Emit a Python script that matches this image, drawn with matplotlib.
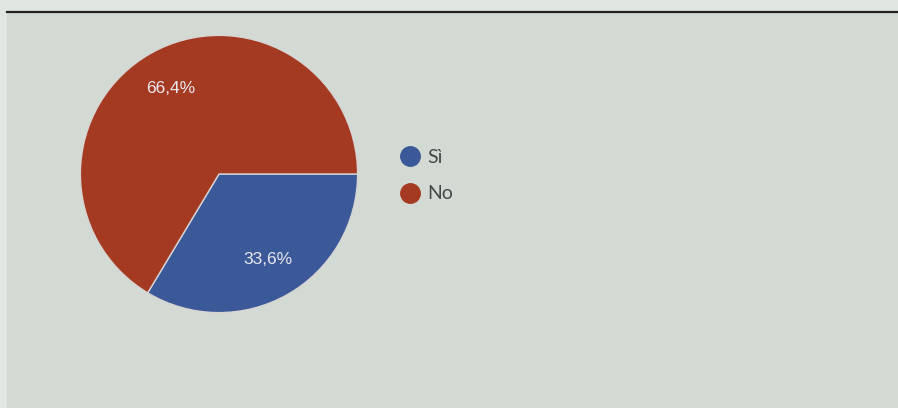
import matplotlib.pyplot as plt
from matplotlib.patches import Rectangle
from matplotlib.lines import Line2D

# survey answers
labels = ["Sì", "No"]
shares = [33.6, 66.4]
colors = ["#3b5998", "#a53a22"]

W, H = 898, 408
fig = plt.figure(figsize=(W / 100, H / 100), dpi=100)
fig.patch.set_facecolor("#e0e6e2")

# inner panel and top rule
fig.patches.append(Rectangle((7 / W, 0), 1 - 7 / W, 1 - 12 / H,
                             transform=fig.transFigure, facecolor="#d3dad3",
                             edgecolor="none", zorder=-5))
fig.add_artist(Line2D([7 / W, 1], [1 - 11.5 / H, 1 - 11.5 / H],
                      transform=fig.transFigure, color="#222222", lw=1.6))

# pie: centre (219, 174) px, radius 140 px
cx, cy, r = 219, 174, 140
ax = fig.add_axes([(cx - r) / W, (H - cy - r) / H, 2 * r / W, 2 * r / H])
ax.set_zorder(2)
wedges, texts, autotexts = ax.pie(
    shares, colors=colors, startangle=0, counterclock=False, radius=1,
    autopct=lambda p: f"{p:.1f}%".replace(".", ","), pctdistance=0.71,
    wedgeprops=dict(edgecolor="#d8d4d4", linewidth=1),
    textprops=dict(color="#e9e9ef", fontsize=12.5, family="Liberation Sans"))
ax.set_xlim(-1.01, 1.01)
ax.set_ylim(-1.01, 1.01)
ax.set_aspect("auto")
ax.axis("off")

handles = [Line2D([], [], marker="o", linestyle="none", markersize=14,
                  markerfacecolor=c, markeredgecolor=c) for c in colors]
leg = fig.legend(handles, labels, loc="upper left",
                 bbox_to_anchor=(398 / W, 1 - 149 / H), frameon=False,
                 handlelength=1.2, handletextpad=0.3, labelspacing=1.0,
                 borderpad=0, borderaxespad=0,
                 prop=dict(family="Lato", size=14), labelcolor="#474747")
leg.set_zorder(3)

fig.savefig("out.png", dpi=100, facecolor=fig.get_facecolor())
